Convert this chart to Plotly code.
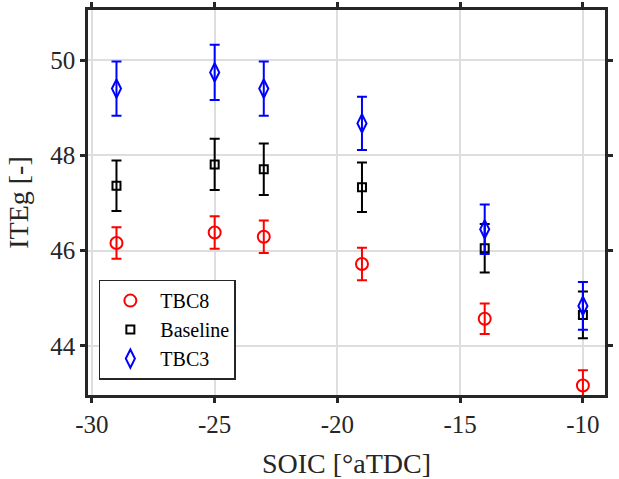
import plotly.graph_objects as go

soic = [-29, -25, -23, -19, -14, -10]
tbc8 = [46.16, 46.38, 46.29, 45.72, 44.57, 43.17]
tbc8_err = [0.33, 0.34, 0.34, 0.34, 0.32, 0.32]
baseline = [47.36, 47.81, 47.71, 47.33, 46.05, 44.65]
baseline_err = [0.53, 0.54, 0.54, 0.52, 0.51, 0.49]
tbc3 = [49.40, 49.74, 49.40, 48.67, 46.45, 44.84]
tbc3_err = [0.57, 0.58, 0.57, 0.56, 0.52, 0.50]
x_ticks = [-30, -25, -20, -15, -10]
y_ticks = [44, 46, 48, 50]

SERIF = "Liberation Serif"
fig = go.Figure()
series = [
    ("TBC8", tbc8, tbc8_err, "#ff0000", "circle-open", 12),
    ("Baseline", baseline, baseline_err, "#000000", "square-open", 8),
    ("TBC3", tbc3, tbc3_err, "#0000ff", "diamond-tall-open", 13),
]
for name, y, e, c, sym, sz in series:
    fig.add_trace(go.Scatter(
        x=soic, y=y, mode="markers", name=name,
        marker=dict(symbol=sym, size=sz, color=c, line=dict(width=2, color=c)),
        error_y=dict(type="data", array=e, visible=True, color=c, thickness=2, width=5),
    ))

axis_common = dict(
    showline=True, linecolor="#262626", linewidth=2.5, mirror="ticks",
    ticks="outside", ticklen=5, tickwidth=2.5, tickcolor="#262626",
    showgrid=True, gridcolor="#dedede", gridwidth=1.5, zeroline=False,
    automargin=False,
    tickfont=dict(family=SERIF, size=25, color="#262626"),
)
fig.update_xaxes(range=[-30.16, -9.1], tickvals=x_ticks, ticktext=[str(v) for v in x_ticks],
                 title=dict(text="SOIC [°aTDC]", font=dict(family=SERIF, size=28, color="#262626"), standoff=26),
                 **axis_common)
fig.update_yaxes(range=[42.97, 51.05], tickvals=y_ticks, ticktext=[str(v) for v in y_ticks],
                 title=dict(text="ITEg [-]", font=dict(family=SERIF, size=28, color="#262626"), standoff=14),
                 **axis_common)
fig.update_layout(
    width=619, height=479, margin=dict(l=88, r=14, t=10, b=84),
    plot_bgcolor="white", paper_bgcolor="white",
    font=dict(family=SERIF, color="#000000"),
    legend=dict(x=0.021, y=0.04, xanchor="left", yanchor="bottom",
                bgcolor="white", bordercolor="#262626", borderwidth=1.5,
                font=dict(family=SERIF, size=20, color="#000000"),
                tracegroupgap=0, itemwidth=50),
    showlegend=True,
)
fig.write_html("out.html")
